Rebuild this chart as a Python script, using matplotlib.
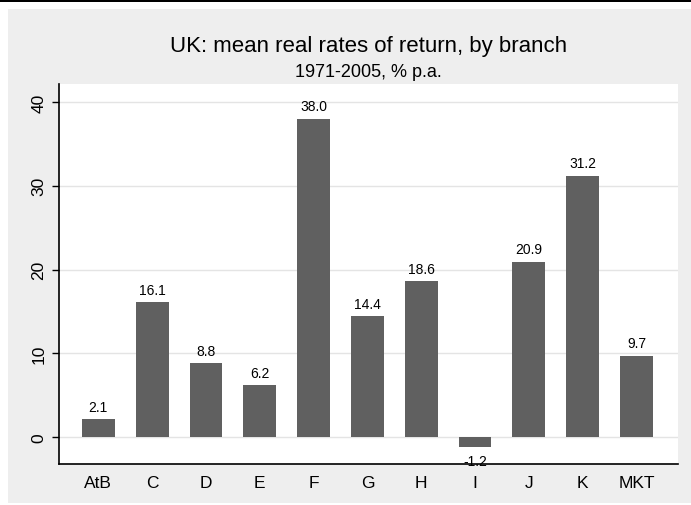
import matplotlib
matplotlib.use("Agg")
import matplotlib.pyplot as plt
from matplotlib.patches import Rectangle

plt.rcParams['font.family'] = ['Liberation Sans', 'DejaVu Sans']

branches = ["AtB", "C", "D", "E", "F", "G", "H", "I", "J", "K", "MKT"]
returns = [2.1, 16.1, 8.8, 6.2, 38.0, 14.4, 18.6, -1.2, 20.9, 31.2, 9.7]
yticks = [0, 10, 20, 30, 40]

W, H = 691, 506
fig = plt.figure(figsize=(W / 100, H / 100), dpi=100)
fig.patch.set_facecolor("white")
# outer gray panel
fig.patches.append(Rectangle((8 / W, 2 / H), 1 - 8 / W, (504 - 10) / H,
                             transform=fig.transFigure, facecolor="#eeeeee",
                             edgecolor="none", zorder=-10))
# top black rule
fig.patches.append(Rectangle((0, 1 - 3 / H), 1, 3 / H, transform=fig.transFigure,
                             facecolor="black", edgecolor="none", zorder=-10))

ax = fig.add_axes([59 / W, 1 - 464.5 / H, (678 - 59) / W, (464.5 - 85) / H])
ax.set_zorder(5)
ax.set_facecolor("white")
x = list(range(len(branches)))
ax.bar(x, returns, width=0.61, color="#606060", zorder=2)
ax.set_xlim(-0.73, 10.77)
ax.set_ylim(-3.16, 42.15)
ax.set_yticks(yticks)
ax.set_yticklabels([str(t) for t in yticks], rotation=90, va="center", fontsize=12.5)
ax.set_xticks(x)
ax.set_xticklabels(branches, fontsize=12.5)
ax.tick_params(axis="x", length=0, pad=8)
ax.tick_params(axis="y", length=5, width=1, pad=4)
ax.grid(axis="y", color="#e4e4e4", linewidth=1, zorder=0)
ax.set_axisbelow(True)
for s in ["top", "right"]:
    ax.spines[s].set_visible(False)
for s in ["left", "bottom"]:
    ax.spines[s].set_linewidth(1.2)

for xi, v in zip(x, returns):
    if v >= 0:
        ax.annotate(f"{v:.1f}", (xi, v), xytext=(0, 4), textcoords="offset points",
                    ha="center", va="bottom", fontsize=10)
    else:
        ax.annotate(f"{v:.1f}", (xi, v), xytext=(0, -5), textcoords="offset points",
                    ha="center", va="top", fontsize=10)

cx = (59 + 678) / 2 / W
fig.text(cx, 1 - 52 / H, "UK: mean real rates of return, by branch",
         ha="center", va="baseline", fontsize=16)
fig.text(cx, 1 - 77 / H, "1971-2005, % p.a.", ha="center", va="baseline", fontsize=13)

fig.savefig("out.png", dpi=100)
